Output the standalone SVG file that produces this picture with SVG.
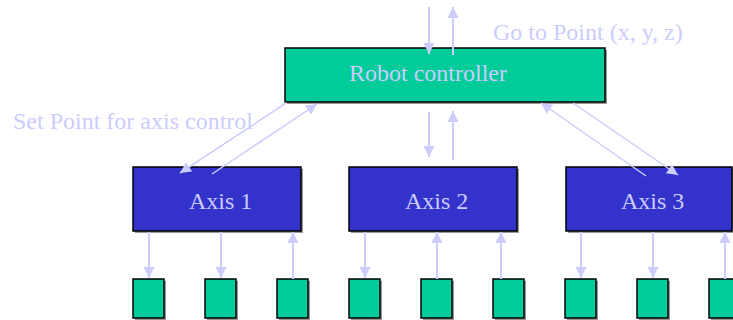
<svg xmlns="http://www.w3.org/2000/svg" width="733" height="320" viewBox="0 0 733 320">
<defs>
<style>
.t{font-family:"Liberation Serif","Times New Roman",serif;font-size:24px;fill:#ccccff}
.ctl{fill:#00cc99;stroke:#000;stroke-width:1.5}
.ax{fill:#3333cc;stroke:#000;stroke-width:1.5}
.sh{fill:#999999}
.c{stroke:#ccccff;stroke-width:2;fill:none;marker-end:url(#ah)}
.d{stroke:#ccccff;stroke-width:1.5;fill:none;marker-end:url(#ah)}
</style>
<marker id="ah" viewBox="0 0 10 10" refX="10" refY="5" markerWidth="11" markerHeight="11" markerUnits="userSpaceOnUse" orient="auto">
<path d="M0,0 L10,5 L0,10 Z" fill="#ccccff"/>
</marker>
</defs>
<g id="controller">
<rect class="sh" x="287" y="50" width="320" height="54"/>
<rect class="ctl" x="285" y="48" width="320" height="54"/>
<text class="t" x="349" y="81">Robot controller</text>
</g>
<g id="axis1">
<rect class="sh" x="135" y="169" width="168" height="64"/>
<rect class="ax" x="133" y="167" width="168" height="64"/>
<text class="t" x="189" y="209">Axis 1</text>
</g>
<g id="axis2">
<rect class="sh" x="351" y="169" width="168" height="64"/>
<rect class="ax" x="349" y="167" width="168" height="64"/>
<text class="t" x="405" y="209">Axis 2</text>
</g>
<g id="axis3">
<rect class="sh" x="568" y="169" width="168" height="64"/>
<rect class="ax" x="566" y="167" width="166" height="64"/>
<text class="t" x="621" y="209">Axis 3</text>
</g>
<g id="m1"><rect class="sh" x="135" y="281" width="31" height="39"/><rect class="ctl" x="133" y="279" width="31" height="39"/></g>
<g id="m2"><rect class="sh" x="207" y="281" width="31" height="39"/><rect class="ctl" x="205" y="279" width="31" height="39"/></g>
<g id="m3"><rect class="sh" x="279" y="281" width="31" height="39"/><rect class="ctl" x="277" y="279" width="31" height="39"/></g>
<g id="m4"><rect class="sh" x="351" y="281" width="31" height="39"/><rect class="ctl" x="349" y="279" width="31" height="39"/></g>
<g id="m5"><rect class="sh" x="423" y="281" width="31" height="39"/><rect class="ctl" x="421" y="279" width="31" height="39"/></g>
<g id="m6"><rect class="sh" x="495" y="281" width="31" height="39"/><rect class="ctl" x="493" y="279" width="31" height="39"/></g>
<g id="m7"><rect class="sh" x="567" y="281" width="31" height="39"/><rect class="ctl" x="565" y="279" width="31" height="39"/></g>
<g id="m8"><rect class="sh" x="639" y="281" width="31" height="39"/><rect class="ctl" x="637" y="279" width="31" height="39"/></g>
<g id="m9"><rect class="sh" x="711" y="281" width="31" height="39"/><rect class="ctl" x="709" y="279" width="31" height="39"/></g>
<g id="labels">
<text class="t" x="493" y="40">Go to Point (x, y, z)</text>
<text class="t" x="13" y="129">Set Point for axis control</text>
</g>
<g id="connectors">
<line class="c" x1="429" y1="7" x2="429" y2="54"/>
<line class="c" x1="453" y1="55" x2="453" y2="7"/>
<line class="c" x1="429" y1="112" x2="429" y2="157"/>
<line class="c" x1="453" y1="160" x2="453" y2="111"/>
<line class="d" x1="286" y1="103" x2="180" y2="173"/>
<line class="d" x1="212" y1="174" x2="317" y2="104"/>
<line class="d" x1="646" y1="176" x2="541" y2="103"/>
<line class="d" x1="573" y1="103" x2="678" y2="175"/>
<line class="c" x1="149" y1="232" x2="149" y2="278"/>
<line class="c" x1="221" y1="232" x2="221" y2="278"/>
<line class="c" x1="293" y1="279" x2="293" y2="232"/>
<line class="c" x1="365" y1="232" x2="365" y2="278"/>
<line class="c" x1="437" y1="279" x2="437" y2="232"/>
<line class="c" x1="501" y1="279" x2="501" y2="232"/>
<line class="c" x1="581" y1="232" x2="581" y2="278"/>
<line class="c" x1="653" y1="232" x2="653" y2="278"/>
<line class="c" x1="725" y1="279" x2="725" y2="232"/>
</g>
</svg>
